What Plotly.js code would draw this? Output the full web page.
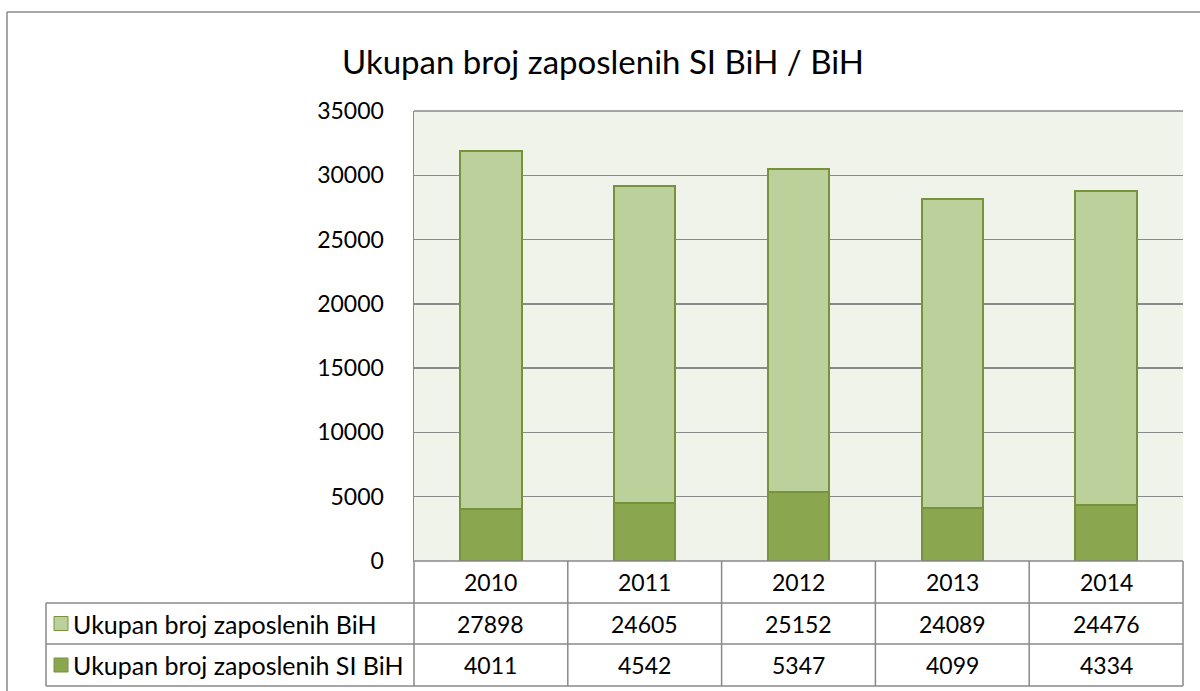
<!DOCTYPE html>
<html><head><meta charset="utf-8">
<script src="https://cdn.plot.ly/plotly-3.0.1.min.js"></script>
<style>html,body{margin:0;padding:0;background:#fff}#chart{width:1200px;height:691px}</style>
</head><body><div id="chart"></div>
<script>
const years = ['2010','2011','2012','2013','2014'];
const seriesNames = ['Ukupan broj zaposlenih SI BiH','Ukupan broj zaposlenih BiH'];
const siBih = [4011, 4542, 5347, 4099, 4334];
const bih = [27898, 24605, 25152, 24089, 24476];
const yTicks = [0,5000,10000,15000,20000,25000,30000,35000];

const FONT = 'Lato, "Open Sans", sans-serif';
const dark = '#8AA64E', light = '#BBD09A', edge = '#76933C', grid = '#898989';

const traces = [
  {type:'bar', x:years, y:siBih, name:seriesNames[0], marker:{color:dark, line:{color:edge,width:2}}, width:0.4, hoverinfo:'y'},
  {type:'bar', x:years, y:bih, name:seriesNames[1], marker:{color:light, line:{color:edge,width:2}}, width:0.4, hoverinfo:'y'}
];

// table geometry in paper coordinates
const L = 414, R = 1183, T = 111, B = 561, H = 691;
const pw = R - L, ph = B - T;
const px = v => (v - L) / pw;
const py = v => (B - v) / ph;
const rowY = [561, 603, 644, 686];
const tableLeft = 46;
const colX = i => (i + 0.5) / years.length;   // paper x of category centre
const colEdge = i => i / years.length;

const shapes = [];
const line = (x0,y0,x1,y1) => shapes.push({type:'line', xref:'paper', yref:'paper', x0, y0, x1, y1, line:{color:grid, width:1.5}});
// outer chart border
line(px(7), py(12), px(1200), py(12));
line(px(7), py(12), px(7), py(691));
// plot top border
line(0, 1, 1, 1);
// table horizontal lines
line(0, py(rowY[0]), 1, py(rowY[0]));
for (let i = 1; i < rowY.length; i++) line(px(tableLeft), py(rowY[i]), 1, py(rowY[i]));
// vertical lines
line(px(tableLeft), py(rowY[1]), px(tableLeft), py(rowY[3]));
for (let i = 0; i <= years.length; i++) line(colEdge(i), py(rowY[0]), colEdge(i), py(rowY[3]));
// legend keys
const keyColors = [light, dark];
[1,2].forEach((r, k) => {
  const yc = (rowY[r] + rowY[r+1]) / 2;
  shapes.push({type:'rect', xref:'paper', yref:'paper', x0:px(54), x1:px(68), y0:py(yc-7), y1:py(yc+7), fillcolor:keyColors[k], line:{color:edge, width:1}});
});

const annotations = [];
const tableRows = [bih, siBih];
const rowNames = [seriesNames[1], seriesNames[0]];
years.forEach((yr, i) => {
  annotations.push({xref:'paper', yref:'paper', x:colX(i), y:py((rowY[0]+rowY[1])/2), text:yr, showarrow:false, font:{family:FONT, size:23, color:'#000'}, xanchor:'center', yanchor:'middle'});
  tableRows.forEach((row, r) => {
    annotations.push({xref:'paper', yref:'paper', x:colX(i), y:py((rowY[r+1]+rowY[r+2])/2), text:String(row[i]), showarrow:false, font:{family:FONT, size:23, color:'#000'}, xanchor:'center', yanchor:'middle'});
  });
});
rowNames.forEach((n, r) => {
  annotations.push({xref:'paper', yref:'paper', x:px(71), y:py((rowY[r+1]+rowY[r+2])/2), text:n, showarrow:false, font:{family:FONT, size:25, color:'#000'}, xanchor:'left', yanchor:'middle'});
});

const layout = {
  width:1200, height:691,
  margin:{l:L, r:1200-R, t:T, b:H-B, pad:0},
  paper_bgcolor:'#ffffff', plot_bgcolor:'#EFF3EA',
  barmode:'stack', showlegend:false,
  title:{text:'Ukupan broj zaposlenih SI BiH / BiH', x:603/1200, xref:'container', xanchor:'center', y:1-62/691, yref:'container', yanchor:'middle', font:{family:FONT, size:33, color:'#000'}},
  xaxis:{type:'category', showticklabels:false, ticks:'', showgrid:false, zeroline:false, showline:false, range:[-0.5, years.length-0.5], fixedrange:true},
  yaxis:{range:[0,35000], tickvals:yTicks, ticktext:yTicks.map(String), showgrid:true, gridcolor:grid, gridwidth:1.5, zeroline:false, showline:true, linecolor:grid, linewidth:1.5, ticks:'', ticklabelstandoff:24, tickfont:{family:FONT, size:23, color:'#000'}, fixedrange:true},
  shapes, annotations
};
Plotly.newPlot('chart', traces, layout, {displayModeBar:false, staticPlot:true});
</script></body></html>
